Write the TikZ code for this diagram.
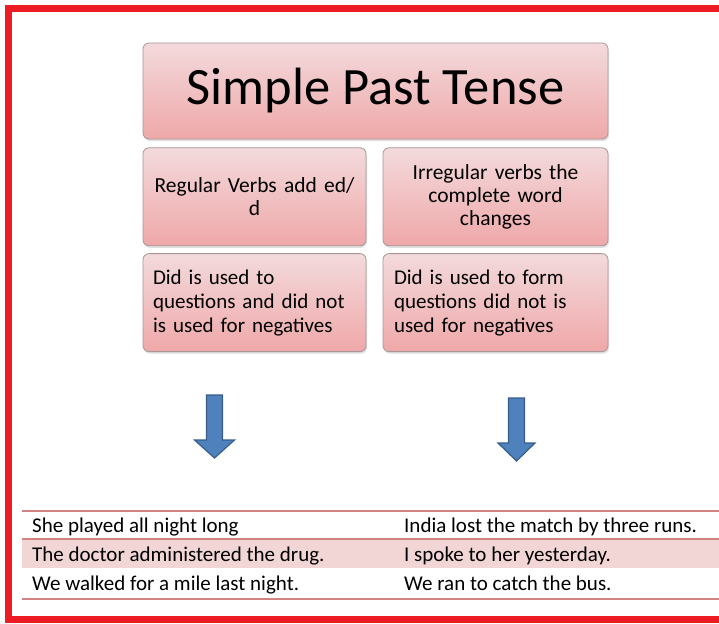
\documentclass[tikz,border=0pt]{standalone}
\usepackage{fontspec}
\setmainfont{Carlito}
\usetikzlibrary{positioning,shadows}

\definecolor{framered}{RGB}{237,28,36}
\definecolor{boxtop}{RGB}{243,218,220}
\definecolor{boxbottom}{RGB}{239,168,169}
\definecolor{boxline}{RGB}{170,150,150}
\definecolor{arrowblue}{RGB}{79,129,189}
\definecolor{arrowline}{RGB}{56,93,138}
\definecolor{ruleline}{RGB}{210,130,130}
\definecolor{rowshade}{RGB}{242,214,214}

\tikzset{
  tensebox/.style={draw=boxline, line width=0.8pt, rounded corners=6pt,
    top color=boxtop, bottom color=boxbottom, inner sep=0pt,
    drop shadow={opacity=0.25, shadow xshift=1pt, shadow yshift=-2pt}},
  headbox/.style={tensebox, minimum width=465pt, minimum height=96pt,
    font=\fontsize{52.5}{60}\selectfont},
  rulebox/.style={tensebox, minimum width=223pt, minimum height=98pt,
    text width=213pt, align=center, font=\fontsize{21.5}{23}\selectfont},
  usebox/.style={tensebox, minimum width=223pt, minimum height=98pt,
    text width=203pt, align=left, font=\fontsize{21}{24}\selectfont},
  blockarrow/.style={fill=arrowblue, draw=arrowline, line width=1.2pt},
  tablerule/.style={draw=ruleline, line width=1.2pt},
  cell/.style={anchor=base west, inner sep=0pt, font=\fontsize{21}{24}\selectfont}
}

\begin{document}
\begin{tikzpicture}[x=1pt, y=-1pt]
  \useasboundingbox (0,0) rectangle (719,623);
  \clip (0,0) rectangle (719,623);
  \fill[white] (0,0) rectangle (719,623);
  \draw[framered, line width=7pt] (8.5,9) rectangle (740,619.5);

  % boxes
  \node[headbox] (title) at (375.5,91) {Simple Past Tense};
  \node[rulebox, below=8pt of title.south west, anchor=north west] (regular)
    {Regular Verbs add ed/\\d};
  \node[rulebox, below=8pt of title.south east, anchor=north east, minimum width=225pt] (irregular)
    {Irregular verbs the\\complete word\\changes};
  \node[usebox, below=7pt of regular] (didreg)
    {Did is used to\\questions and did not\\is used for negatives};
  \node[usebox, below=7pt of irregular, minimum width=225pt] (didirr)
    {Did is used to form\\questions did not is\\used for negatives};

  % arrows
  \foreach \ax/\ay/\hw in {214.5/395/20,516.5/398/18.5}
    \draw[blockarrow] (\ax-8,\ay) -- (\ax+8,\ay) -- (\ax+8,\ay+45)
      -- (\ax+\hw,\ay+45) -- (\ax,\ay+63) -- (\ax-\hw,\ay+45)
      -- (\ax-8,\ay+45) -- cycle;

  % table
  \fill[rowshade] (22,539) rectangle (730,568);
  \draw[tablerule] (22,511) -- (730,511);
  \draw[tablerule] (22,539) -- (730,539);
  \draw[tablerule] (22,599) -- (730,599);

  \node[cell] (s1) at (32,532) {She played all night long};
  \node[cell] (s2) at (32,561) {The doctor administered the drug.};
  \node[cell] (s3) at (32,590) {We walked for a mile last night.};
  \node[cell] (t1) at (404,532) {India lost the match by three runs.};
  \node[cell] (t2) at (404,561) {I spoke to her yesterday.};
  \node[cell] (t3) at (404,590) {We ran to catch the bus.};
\end{tikzpicture}
\end{document}
